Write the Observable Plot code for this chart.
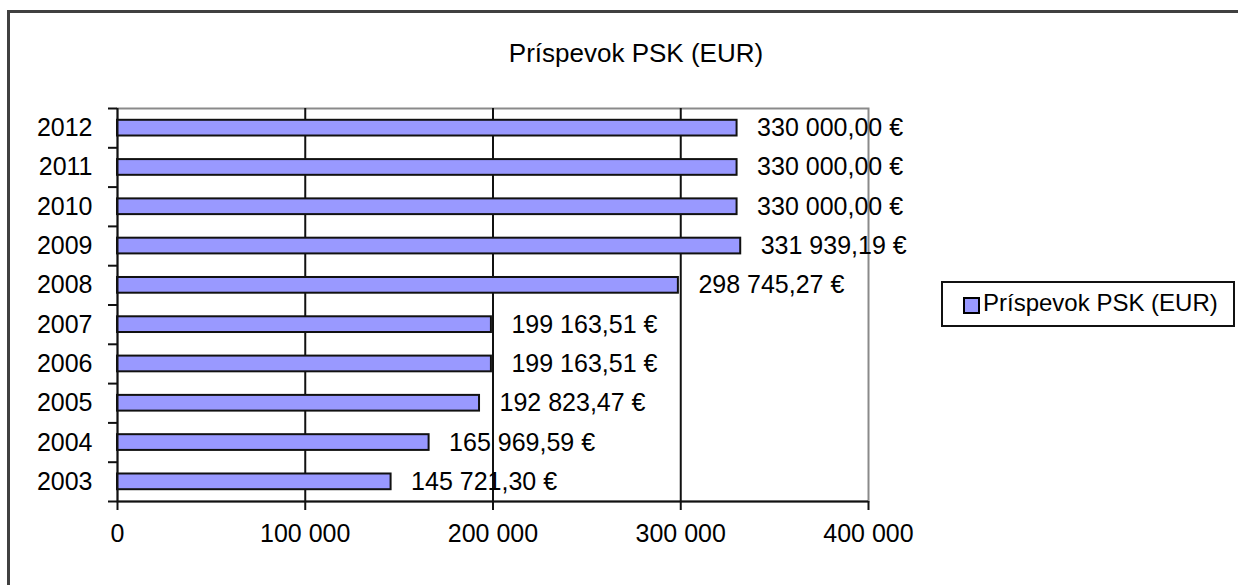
<!DOCTYPE html>
<html>
<head>
<meta charset="utf-8">
<script src="https://cdn.jsdelivr.net/npm/d3@7"></script>
<script src="https://cdn.jsdelivr.net/npm/@observablehq/plot@0.6"></script>
<style>
  html, body { margin: 0; padding: 0; background: #fff; width: 1238px; height: 585px; overflow: hidden; }
  body { position: relative; font-family: "Liberation Sans", Arial, sans-serif; color: #000; }
  #outer { position: absolute; left: 7px; top: 10px; width: 1300px; height: 700px;
           border-top: 3px solid #404040; border-left: 3px solid #404040; }
  #chart { position: absolute; left: 0; top: 0; }
  #title { position: absolute; left: 436px; width: 400px; top: 40px; text-align: center;
           font-size: 26px; line-height: 26px; white-space: nowrap; }
  #legend { position: absolute; left: 941px; top: 281px; width: 290px; height: 42px;
            border: 2px solid #111; background: #fff; }
  #legend .sw { position: absolute; left: 20px; top: 14px; width: 13px; height: 13px;
                background: #9999ff; border: 2px solid #000; }
  #legend .lb { position: absolute; left: 40px; top: 7px; font-size: 24px; line-height: 26px; white-space: nowrap; }
</style>
</head>
<body>
<div id="outer"></div>
<div id="chart"></div>
<div id="title"></div>
<div id="legend"><div class="sw"></div><div class="lb"></div></div>
<script>
const chartTitle = "Príspevok PSK (EUR)";
const seriesName = "Príspevok PSK (EUR)";
const years = [2012, 2011, 2010, 2009, 2008, 2007, 2006, 2005, 2004, 2003];
const values = [330000, 330000, 330000, 331939.19, 298745.27, 199163.51, 199163.51, 192823.47, 165969.59, 145721.30];
const xTicks = [0, 100000, 200000, 300000, 400000];
const gridValues = [100000, 200000, 300000];

const data = years.map((y, i) => ({year: y, value: values[i]}));
const loc = d3.formatLocale({decimal: ",", thousands: " ", grouping: [3], currency: ["", " €"]});
const fmtVal = v => loc.format(",.2f")(v) + " €";
const fmtTick = loc.format(",");
const half = 0.2;
const boundaries = [...years.map(y => y + 0.5), d3.min(years) - 0.5];
const font = "Liberation Sans, Arial, sans-serif";
const fs = 25;

const plot = Plot.plot({
  width: 1238,
  height: 585,
  marginLeft: 117,
  marginRight: 370,
  marginTop: 108,
  marginBottom: 84,
  style: {fontFamily: font, fontSize: fs + "px", color: "#000", background: "transparent", overflow: "visible"},
  x: {domain: [0, 400000]},
  y: {type: "linear", domain: [d3.min(years) - 0.5, d3.max(years) + 0.5]},
  marks: [
    Plot.frame({stroke: "#8a8a8a", strokeWidth: 2}),
    Plot.ruleX(gridValues, {stroke: "#111", strokeWidth: 2}),
    Plot.rect(data, {x1: 0, x2: "value", y1: d => d.year - half, y2: d => d.year + half,
                     fill: "#9999ff", stroke: "#111", strokeWidth: 2}),
    Plot.ruleX([0], {stroke: "#111", strokeWidth: 2}),
    Plot.ruleY([d3.min(years) - 0.5], {stroke: "#111", strokeWidth: 2}),
    Plot.axisY({ticks: boundaries, tickSize: 9, tickFormat: () => "", strokeWidth: 2, stroke: "#111", label: null}),
    Plot.axisY({ticks: years, tickSize: 0, tickPadding: 25, tickFormat: d => String(d), fontSize: fs, fill: "#000", label: null}),
    Plot.axisX({ticks: xTicks, tickSize: 9, tickPadding: 14, tickFormat: fmtTick, strokeWidth: 2, stroke: "#111", fontSize: fs, fill: "#000", label: null}),
    Plot.text(data, {x: "value", y: "year", text: d => fmtVal(d.value), dx: 20, textAnchor: "start", fontSize: fs, fill: "#000"})
  ]
});
document.getElementById("chart").appendChild(plot);
document.getElementById("title").textContent = chartTitle;
document.querySelector("#legend .lb").textContent = seriesName;
</script>
</body>
</html>
